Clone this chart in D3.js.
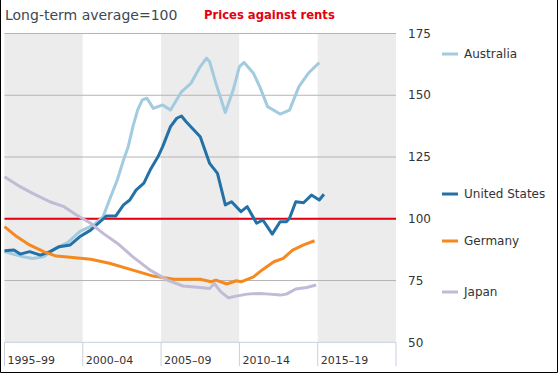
<!DOCTYPE html>
<html>
<head>
<meta charset="utf-8">
<script src="https://cdn.jsdelivr.net/npm/d3@7"></script>
<style>
  body { margin: 0; background: #fff; }
  svg { display: block; font-family: "DejaVu Sans", Verdana, sans-serif; }
</style>
</head>
<body>
<div id="chart"></div>
<script>
// data (year, index)
var periods = ["1995–99", "2000–04", "2005–09", "2010–14", "2015–19"];
var yTicks = [50, 75, 100, 125, 150, 175];

var australia = [[1995.0, 86.7], [1995.6, 85.6], [1996.2, 84.6], [1996.8, 83.9], [1997.5, 84.6], [1998.3, 88.2], [1999.0, 90.2],
  [1999.8, 94.8], [2000.7, 97.5], [2001.3, 100.9], [2001.7, 107.6], [2002.2, 115.7], [2002.6, 123.8], [2002.9, 129.2],
  [2003.2, 137.3], [2003.5, 144.0], [2003.8, 148.1], [2004.1, 148.8], [2004.5, 144.7], [2005.1, 146.1], [2005.6, 144.0],
  [2006.3, 151.4], [2006.9, 154.8], [2007.5, 161.6], [2007.9, 165.0], [2008.1, 163.6], [2008.5, 154.8], [2009.1, 143.0],
  [2009.6, 152.1], [2010.0, 161.6], [2010.3, 163.3], [2010.9, 158.9], [2011.3, 153.5], [2011.8, 145.4], [2012.6, 142.4],
  [2013.2, 144.0], [2013.8, 153.5], [2014.4, 158.9], [2015.1, 163.2]];

var unitedStates = [[1995.0, 87.1], [1995.6, 87.4], [1996.0, 85.7], [1996.6, 86.7], [1997.3, 85.3], [1997.9, 86.7], [1998.5, 88.7],
  [1999.2, 89.4], [1999.8, 92.7], [2000.5, 95.4], [2001.1, 98.8], [2001.5, 101.1], [2002.1, 101.1], [2002.6, 105.6],
  [2003.0, 107.6], [2003.4, 111.6], [2003.9, 114.4], [2004.3, 119.7], [2004.8, 125.1], [2005.1, 129.2], [2005.6, 137.3],
  [2006.0, 140.7], [2006.3, 141.6], [2006.6, 139.3], [2007.5, 133.2], [2008.1, 122.4], [2008.6, 118.4], [2009.1, 105.6],
  [2009.5, 106.9], [2010.1, 102.9], [2010.5, 104.9], [2011.1, 98.2], [2011.5, 99.5], [2012.1, 93.8], [2012.6, 98.8],
  [2013.0, 98.8], [2013.2, 100.2], [2013.6, 106.9], [2014.1, 106.5], [2014.6, 109.6], [2015.1, 107.6], [2015.4, 109.9]];

var germany = [[1995.0, 96.8], [1995.8, 92.7], [1996.6, 89.4], [1997.5, 86.7], [1998.3, 84.9], [1999.2, 84.4], [2000.5, 83.6],
  [2001.7, 82.0], [2003.2, 79.2], [2004.5, 76.8], [2005.8, 75.5], [2007.5, 75.5], [2008.2, 74.5], [2008.5, 75.2],
  [2009.2, 73.6], [2009.8, 74.9], [2010.1, 74.5], [2010.9, 76.5], [2011.5, 79.5], [2012.2, 82.6], [2012.8, 84.0],
  [2013.4, 87.3], [2014.1, 89.4], [2014.8, 91.1]];

var japan = [[1995.0, 117.0], [1996.0, 113.0], [1996.8, 110.3], [1997.9, 106.9], [1998.8, 104.9], [1999.6, 101.5], [2000.5, 98.2],
  [2001.3, 94.1], [2002.2, 90.1], [2003.2, 84.6], [2004.3, 79.2], [2005.4, 75.2], [2006.4, 72.8], [2007.5, 72.2],
  [2008.1, 71.8], [2008.4, 73.8], [2008.8, 70.5], [2009.3, 68.0], [2009.8, 68.7], [2010.5, 69.5], [2011.3, 69.8],
  [2011.9, 69.5], [2012.6, 69.1], [2013.0, 69.5], [2013.6, 71.6], [2014.3, 72.2], [2014.9, 73.2]];

var series = [
  { name: "Australia", values: australia, color: "#a3cbdf", legendY: 54 },
  { name: "United States", values: unitedStates, color: "#2471a8", legendY: 194 },
  { name: "Germany", values: germany, color: "#f5891f", legendY: 241 },
  { name: "Japan", values: japan, color: "#c2bad6", legendY: 292 }
];

var width = 558, height = 373;

var svg = d3.select("#chart").append("svg")
  .attr("width", width)
  .attr("height", height);

var x = d3.scaleLinear().domain([1995, 2020]).range([4.5, 396]);
var y = d3.scaleLinear().domain([50, 175]).range([342.3, 33.5]);

// alternating bands
svg.selectAll("rect.band")
  .data(periods)
  .enter().append("rect")
  .attr("class", "band")
  .attr("x", function(d, i){ return x(1995 + i * 5); })
  .attr("y", y(175))
  .attr("width", x(2000) - x(1995))
  .attr("height", y(50) - y(175))
  .attr("fill", function(d, i){ return i % 2 == 0 ? "#ececec" : "#fff"; });

// gridlines
svg.selectAll("line.grid")
  .data(yTicks.filter(function(d){ return d != 50; }))
  .enter().append("line")
  .attr("x1", x(1995)).attr("x2", x(2020))
  .attr("y1", function(d){ return y(d); })
  .attr("y2", function(d){ return y(d); })
  .attr("stroke", "#b4b4b4")
  .attr("stroke-width", 1);

// y labels on the right
svg.selectAll("text.ylab")
  .data(yTicks)
  .enter().append("text")
  .attr("x", 408)
  .attr("y", function(d){ return y(d); })
  .attr("dy", "0.35em")
  .attr("font-size", 12)
  .attr("fill", "#333")
  .text(function(d){ return d; });

// x axis line and tick marks
svg.append("line")
  .attr("x1", x(1995)).attr("x2", x(2020))
  .attr("y1", y(50)).attr("y2", y(50))
  .attr("stroke", "#c9d0dc");

svg.selectAll("line.xtick")
  .data(d3.range(0, periods.length + 1))
  .enter().append("line")
  .attr("x1", function(d){ return x(1995 + d * 5); })
  .attr("x2", function(d){ return x(1995 + d * 5); })
  .attr("y1", y(50))
  .attr("y2", 366)
  .attr("stroke", "#c9d0dc");

svg.selectAll("text.xlab")
  .data(periods)
  .enter().append("text")
  .attr("x", function(d, i){ return x(1995 + i * 5) + 3; })
  .attr("y", 364)
  .attr("font-size", 11)
  .attr("fill", "#333")
  .text(function(d){ return d; });

// 100 reference line
svg.append("line")
  .attr("x1", x(1995)).attr("x2", x(2020))
  .attr("y1", y(100)).attr("y2", y(100))
  .attr("stroke", "#e3000f")
  .attr("stroke-width", 2);

var line = d3.line()
  .x(function(d){ return x(d[0]); })
  .y(function(d){ return y(d[1]); });

series.forEach(function(s){
  svg.append("path")
    .datum(s.values)
    .attr("fill", "none")
    .attr("stroke", s.color)
    .attr("stroke-width", 3)
    .attr("stroke-linejoin", "round")
    .attr("d", line);

  svg.append("line")
    .attr("x1", 442).attr("x2", 458)
    .attr("y1", s.legendY).attr("y2", s.legendY)
    .attr("stroke", s.color)
    .attr("stroke-width", 3);

  svg.append("text")
    .attr("x", 464)
    .attr("y", s.legendY)
    .attr("dy", "0.35em")
    .attr("font-size", 12)
    .attr("fill", "#333")
    .text(s.name);
});

// titles
svg.append("text")
  .attr("x", 5).attr("y", 20)
  .attr("font-size", 14)
  .attr("fill", "#3c4a56")
  .text("Long-term average=100");

svg.append("text")
  .attr("x", 204).attr("y", 19)
  .attr("font-size", 11.6)
  .attr("font-weight", "bold")
  .attr("fill", "#e3000f")
  .text("Prices against rents");

// outer frame
svg.append("path")
  .attr("d", "M0.5,0 V372.5 H557.5 V0")
  .attr("fill", "none")
  .attr("stroke", "#000");
</script>
</body>
</html>
